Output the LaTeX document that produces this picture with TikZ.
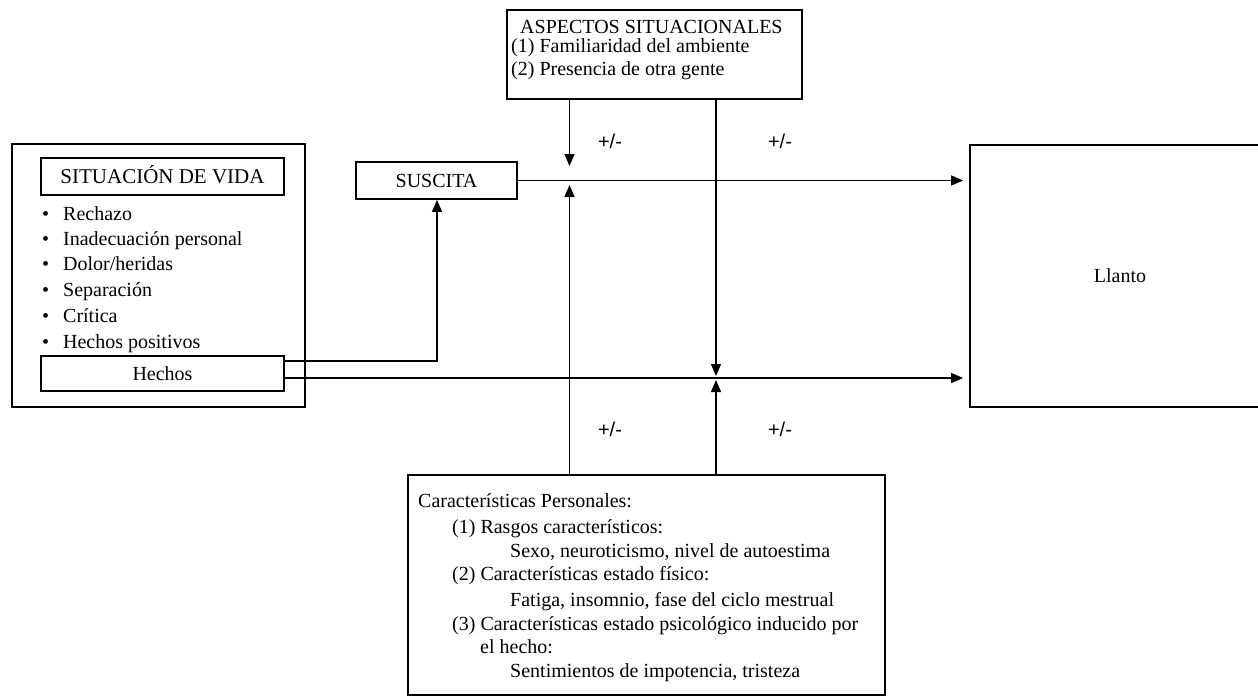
\documentclass[tikz,border=0pt]{standalone}
\usepackage{fontspec}
\setmainfont{Liberation Serif}
\newfontfamily\pmfont{Liberation Sans}
\usetikzlibrary{arrows.meta}
\begin{document}
\begin{tikzpicture}[x=1pt,y=-1pt,
  box/.style={draw,line width=1.8pt,inner sep=0pt,font=\fontsize{20}{24}\selectfont},
  ctext/.style={text height=13pt,text depth=0pt},
  txt/.style={anchor=base west,inner sep=0pt,font=\fontsize{20}{24}\selectfont},
  pm/.style={inner sep=0pt,font=\pmfont\fontsize{20}{24}\selectfont},
  conn/.style={line width=1.4pt,-{Triangle[length=12pt,width=10pt]}}
]
\useasboundingbox (0,0) rectangle (1258,697);
\fill[white] (0,0) rectangle (1258,697);

% left block
\node[box,minimum width=293pt,minimum height=263pt] (outer) at (158.5,275.5) {};
\node[box,ctext,minimum width=243pt,minimum height=37pt,font=\fontsize{21}{24}\selectfont] (sit) at (162.5,176.5) {SITUACIÓN DE VIDA};
\node[txt] (b1) at (41,220) {\makebox[9pt]{•}\hspace{13pt}Rechazo};
\node[txt] (b2) at (41,245) {\makebox[9pt]{•}\hspace{13pt}Inadecuación personal};
\node[txt] (b3) at (41,270) {\makebox[9pt]{•}\hspace{13pt}Dolor/heridas};
\node[txt] (b4) at (41,296) {\makebox[9pt]{•}\hspace{13pt}Separación};
\node[txt] (b5) at (41,322) {\makebox[9pt]{•}\hspace{13pt}Crítica};
\node[txt] (b6) at (41,348) {\makebox[9pt]{•}\hspace{13pt}Hechos positivos};
\node[box,ctext,minimum width=243pt,minimum height=35pt] (hechos) at (162.5,373.5) {Hechos};

% suscita
\node[box,ctext,minimum width=161pt,minimum height=37pt] (suscita) at (436.5,180.5) {SUSCITA};

% situational aspects
\node[box,minimum width=295pt,minimum height=89pt] (asp) at (654.5,54.5) {};
\node[txt] (a1) at (520,33) {ASPECTOS SITUACIONALES};
\node[txt] (a2) at (511,52) {(1) Familiaridad del ambiente};
\node[txt] (a3) at (511,75) {(2) Presencia de otra gente};

% crying
\node[box,ctext,minimum width=300pt,minimum height=262pt] (llanto) at (1120,276) {Llanto};

% personal characteristics
\node[box,minimum width=477pt,minimum height=220pt] (pers) at (646.5,585) {};
\node[txt] (p1) at (418,507) {Características Personales:};
\node[txt] (p2) at (452,533) {(1) Rasgos característicos:};
\node[txt] (p3) at (510,557) {Sexo, neuroticismo, nivel de autoestima};
\node[txt] (p4) at (452,580) {(2) Características estado físico:};
\node[txt] (p5) at (510,606) {Fatiga, insomnio, fase del ciclo mestrual};
\node[txt] (p6) at (452,630) {(3) Características estado psicológico inducido por};
\node[txt] (p7) at (480,653) {el hecho:};
\node[txt] (p8) at (510,677) {Sentimientos de impotencia, tristeza};

% +/- labels
\node[pm] (pm1) at (610,141) {+/-};
\node[pm] (pm2) at (780,141) {+/-};
\node[pm] (pm3) at (610,429) {+/-};
\node[pm] (pm4) at (780,429) {+/-};

% helper coordinates
\coordinate (yA) at (0,361);
\coordinate (yB) at (0,378);
\coordinate (xS) at (437,0);
\coordinate (xL) at (569.5,0);
\coordinate (xR) at (716,0);
\coordinate (tipA) at (569.5,166);
\coordinate (tipB) at (569.5,185);
\coordinate (tipC) at (716,376);
\coordinate (tipD) at (716,380);

% connectors
\draw[conn] (hechos.east |- yA) -- (xS |- yA) -- (xS |- suscita.south);
\draw[conn,shorten >=6pt] (hechos.east |- yB) -- (llanto.west |- yB);
\draw[conn,shorten >=6pt] (suscita.east) -- (llanto.west |- suscita.east);
\draw[conn] (asp.south -| xL) -- (tipA);
\draw[conn] (pers.north -| xL) -- (tipB);
\draw[conn] (asp.south -| xR) -- (tipC);
\draw[conn] (pers.north -| xR) -- (tipD);
\end{tikzpicture}
\end{document}
